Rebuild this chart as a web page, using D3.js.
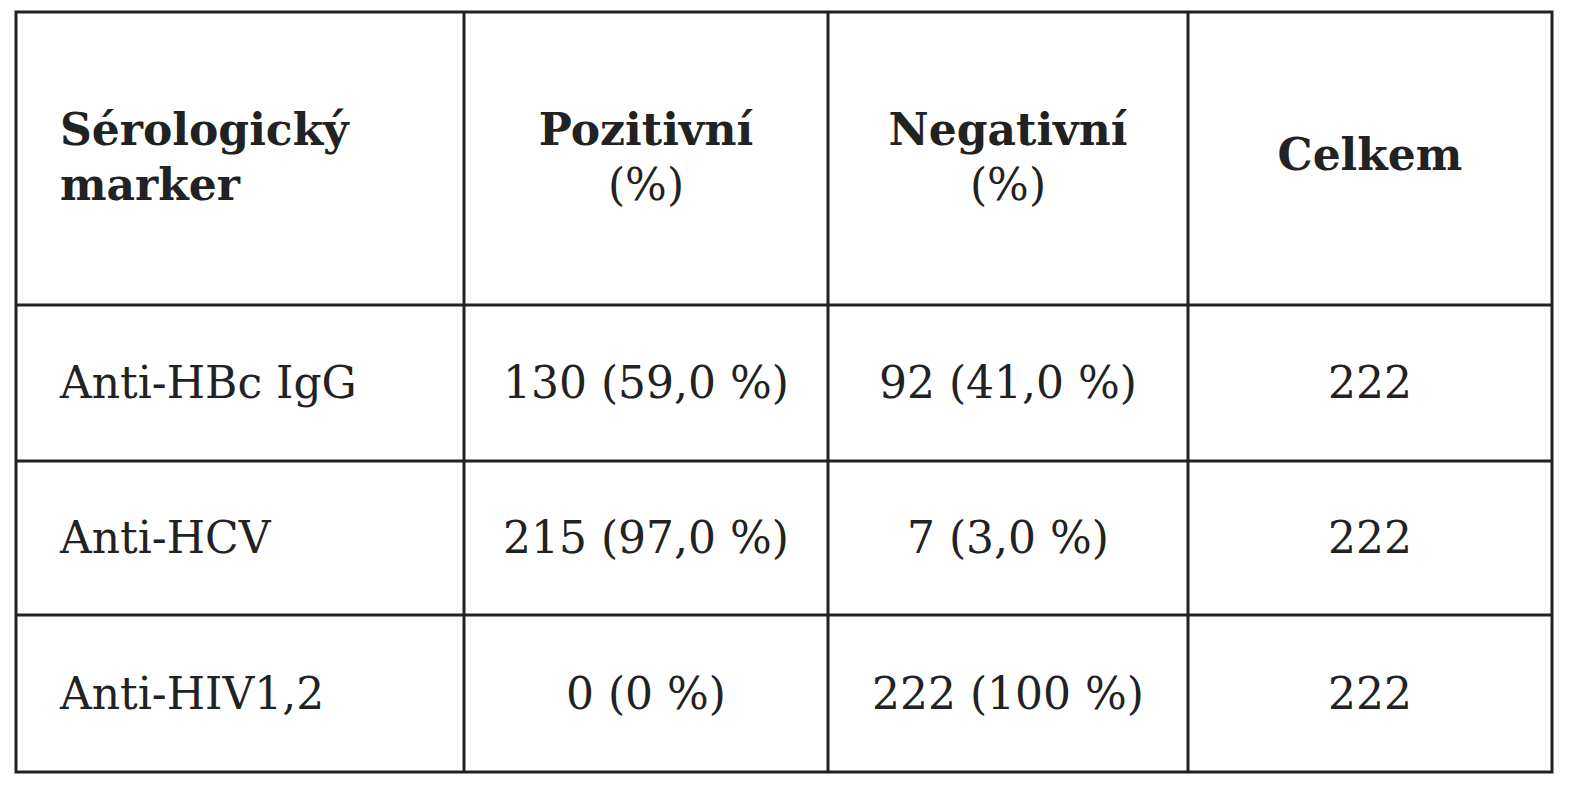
<!DOCTYPE html>
<html><head><meta charset="utf-8">
<script src="https://cdn.jsdelivr.net/npm/d3@7"></script>
<style>body{margin:0;background:#fff}</style></head>
<body><svg id="c" width="1574" height="800"></svg>
<script>
const headers = [["Sérologický","marker"],["Pozitivní","(%)"],["Negativní","(%)"],["Celkem"]];
const markers = ["Anti-HBc IgG","Anti-HCV","Anti-HIV1,2"];
const positive = ["130 (59,0 %)","215 (97,0 %)","0 (0 %)"];
const negative = ["92 (41,0 %)","7 (3,0 %)","222 (100 %)"];
const total = ["222","222","222"];

const svg = d3.select("#c");
const colEdges = [16,464,828,1188,1552];
const rowEdges = [12,305,461,615,772];
const font = "DejaVu Serif, Liberation Serif, serif";
const fs = 44;

svg.append("rect").attr("x",colEdges[0]).attr("y",rowEdges[0])
  .attr("width",colEdges[4]-colEdges[0]).attr("height",rowEdges[4]-rowEdges[0])
  .attr("fill","none").attr("stroke","#222").attr("stroke-width",3);
colEdges.slice(1,4).forEach(x=>svg.append("line").attr("x1",x).attr("x2",x)
  .attr("y1",rowEdges[0]).attr("y2",rowEdges[4]).attr("stroke","#222").attr("stroke-width",3));
rowEdges.slice(1,4).forEach(y=>svg.append("line").attr("y1",y).attr("y2",y)
  .attr("x1",colEdges[0]).attr("x2",colEdges[4]).attr("stroke","#222").attr("stroke-width",3));

function cellX(c){ return c===0 ? colEdges[0]+44 : (colEdges[c]+colEdges[c+1])/2; }
function anchor(c){ return c===0 ? "start" : "middle"; }

const hy = [[145,200],[145,200],[145,200],[170]];
headers.forEach((lines,c)=>{
  lines.forEach((t,i)=>{
    svg.append("text").attr("x",cellX(c)).attr("y",hy[c][i])
      .attr("text-anchor",anchor(c)).attr("font-family",font)
      .attr("font-size",fs).attr("font-weight",i===1&&c>0?"normal":"bold")
      .attr("fill","#222").text(t);
  });
});

const rows = markers.map((m,i)=>[m,positive[i],negative[i],total[i]]);
rows.forEach((r,i)=>{
  const y = (rowEdges[i+1]+rowEdges[i+2])/2 + 15;
  r.forEach((t,c)=>svg.append("text").attr("x",cellX(c)).attr("y",y)
    .attr("text-anchor",anchor(c)).attr("font-family",font).attr("font-size",fs)
    .attr("fill","#222").text(t));
});
</script></body></html>
